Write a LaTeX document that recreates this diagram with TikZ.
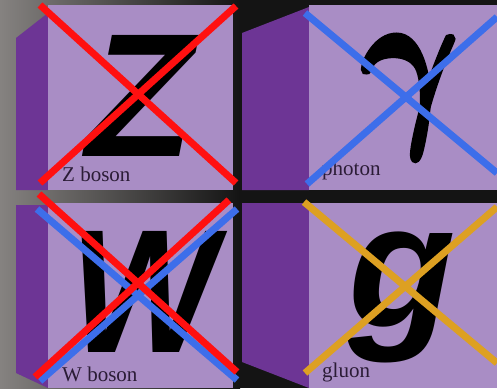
\documentclass[tikz,border=0pt]{standalone}
\usepackage{bm}
\usepackage{fontspec}
\setmainfont{Liberation Serif}
\newfontfamily\glyphfont{Liberation Sans}
\definecolor{facelilac}{HTML}{A98DC5}
\definecolor{sideviolet}{HTML}{6D3595}
\definecolor{crossred}{HTML}{FF1010}
\definecolor{crossblue}{HTML}{3D6EEA}
\definecolor{crossgold}{HTML}{DDA022}
\definecolor{labelink}{HTML}{2B1C36}
\definecolor{bggrey}{HTML}{858280}
\definecolor{bgdark}{HTML}{141414}
% outlined (fatter) glyph
\newcommand{\fatglyph}[1]{\special{pdf:literal direct 2 Tr 0.25 w}#1\special{pdf:literal direct 0 Tr}}

\begin{document}
\begin{tikzpicture}[x=1pt,y=-1pt,
    front/.style={fill=facelilac},
    side/.style={fill=sideviolet},
    letter/.style={font=\glyphfont\bfseries\itshape\fontsize{176}{176}\selectfont,inner sep=0pt},
    caption/.style={font=\fontsize{21}{21}\selectfont,text=labelink,anchor=base west,inner sep=0pt},
    bar/.style={line width=7pt}]
    \useasboundingbox (0,0) rectangle (497,388);
    % background
    \fill[bgdark] (0,0) rectangle (497,388);
    \shade[left color=bggrey,right color=bgdark] (0,0) rectangle (240,388);
    % blocks
    \fill[side] (16,38) -- (48,13) -- (48,190) -- (16,190) -- cycle;
    \fill[front] (48,5) rectangle (233,190);
    \fill[side] (16,205) -- (48,205) -- (48,388) -- (16,373) -- cycle;
    \fill[front] (48,203) rectangle (233,388);
    \fill[side] (242,33) -- (309,7) -- (309,190) -- (242,190) -- cycle;
    \fill[front] (309,5) rectangle (497,190);
    \fill[side] (242,203) -- (309,203) -- (309,388) -- (242,362) -- cycle;
    \fill[front] (309,203) rectangle (497,388);
    % letters
    \node[letter] (zed) at (140,96) {Z};
    \node[inner sep=0pt,xscale=15,yscale=19] (gam) at (410,97) {\fatglyph{$\bm{\gamma}$}};
    \node[letter,xscale=0.88] (dub) at (144,292) {W};
    \node[letter] (glu) at (402,297) {g};
    \node[caption] (zlab) at (62,181) {Z boson};
    \node[caption] (plab) at (322,175) {photon};
    \node[caption] (wlab) at (62,381) {W boson};
    \node[caption] (glab) at (322,377) {gluon};
    % crosses
    \draw[bar,crossred] (40,5) -- (236,183);
    \draw[bar,crossred] (40,183) -- (236,6);
    \draw[bar,crossblue] (305,13) -- (497,173);
    \draw[bar,crossblue] (307,184) -- (497,17);
    \draw[bar,crossblue] (37,209) -- (237,380);
    \draw[bar,crossblue] (40,381) -- (237,209);
    \draw[bar,crossred] (39,194) -- (237,372);
    \draw[bar,crossred] (35,377) -- (229,200);
    \draw[bar,crossgold] (304,202) -- (497,363);
    \draw[bar,crossgold] (305,373) -- (497,207);
\end{tikzpicture}
\end{document}
